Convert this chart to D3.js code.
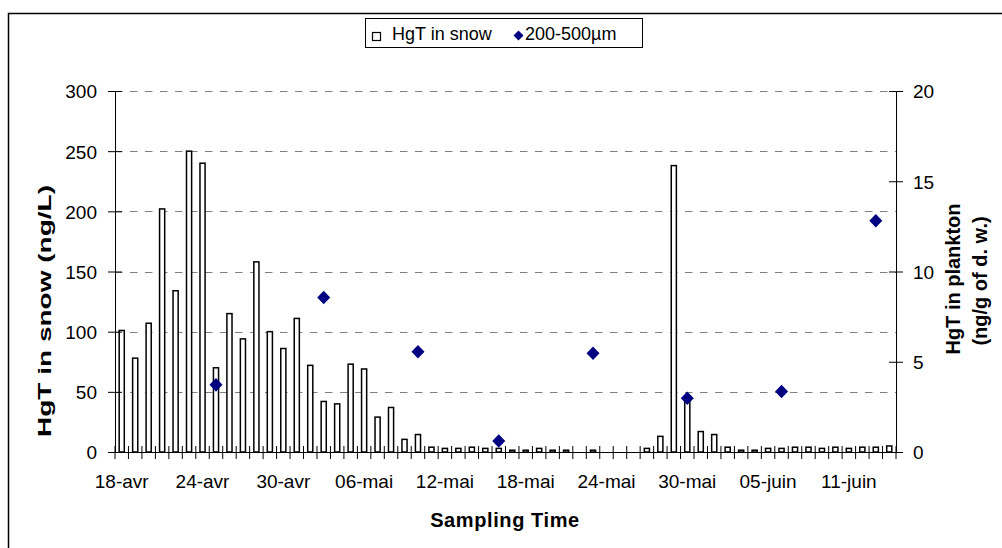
<!DOCTYPE html>
<html>
<head>
<meta charset="utf-8">
<script src="https://cdn.jsdelivr.net/npm/d3@7"></script>
<style>
  html, body { margin: 0; padding: 0; background: #fff; }
  svg { display: block; }
  text { font-family: Arial, "Liberation Sans", sans-serif; fill: #000; }
</style>
</head>
<body>
<svg id="chart" width="1002" height="548"></svg>
<script>
// ---------- data ----------
const dates = [
  "18-avr","19-avr","20-avr","21-avr","22-avr","23-avr","24-avr","25-avr","26-avr","27-avr",
  "28-avr","29-avr","30-avr","01-mai","02-mai","03-mai","04-mai","05-mai","06-mai","07-mai",
  "08-mai","09-mai","10-mai","11-mai","12-mai","13-mai","14-mai","15-mai","16-mai","17-mai",
  "18-mai","19-mai","20-mai","21-mai","22-mai","23-mai","24-mai","25-mai","26-mai","27-mai",
  "28-mai","29-mai","30-mai","31-mai","01-juin","02-juin","03-juin","04-juin","05-juin","06-juin",
  "07-juin","08-juin","09-juin","10-juin","11-juin","12-juin","13-juin","14-juin"
];
const snowHgT = [
  101, 78, 107, 202, 134, 250, 240, 70, 115, 94,
  158, 100, 86, 111, 72, 42, 40, 73, 69, 29,
  37, 10.5, 14.5, 4, 3, 3, 4, 3, 3, 1.5,
  1.5, 3, 1.5, 1.5, null, 1.5, null, null, null, 3,
  13, 238, 45, 17, 14.5, 4, 1.5, 1.5, 3, 3,
  4, 4, 3, 4, 3, 4, 4, 5
];
const planktonDates = ["25-avr","03-mai","10-mai","16-mai","23-mai","30-mai","06-juin","13-juin"];
const planktonHgT = [3.72, 8.56, 5.55, 0.61, 5.47, 2.98, 3.35, 12.81];
const xTickLabels = ["18-avr","24-avr","30-avr","06-mai","12-mai","18-mai","24-mai","30-mai","05-juin","11-juin"];
const leftTicks = [0, 50, 100, 150, 200, 250, 300];
const rightTicks = [0, 5, 10, 15, 20];
const legendLabels = ["HgT in snow", "200-500µm"];

// ---------- layout ----------
const svg = d3.select("#chart");
const pLeft = 115, pRight = 896, pTop = 91, pBottom = 452;

const x = d3.scaleBand().domain(dates).range([pLeft, pRight]).paddingInner(0.62).paddingOuter(0.31);
const xEdge = d3.scaleLinear().domain([0, dates.length]).range([pLeft, pRight]);
const yL = d3.scaleLinear().domain([0, 300]).range([pBottom, pTop]);
const yR = d3.scaleLinear().domain([0, 20]).range([pBottom, pTop]);
const xc = d => x(d) + x.bandwidth() / 2;

// outer chart border (extends past the picture)
svg.append("rect").attr("x", 8.5).attr("y", 13.5).attr("width", 1100).attr("height", 600)
  .attr("fill", "none").attr("stroke", "#000").attr("stroke-width", 1.5);

// gridlines
svg.append("g").selectAll("line").data(leftTicks.filter(v => v > 0)).join("line")
  .attr("x1", pLeft).attr("x2", pRight)
  .attr("y1", d => Math.round(yL(d)) + 0.5).attr("y2", d => Math.round(yL(d)) + 0.5)
  .attr("stroke", "#808080").attr("stroke-width", 1).attr("stroke-dasharray", "7.5,7.5");

// bars
svg.append("g").selectAll("rect").data(dates.map((d, i) => ({d, v: snowHgT[i]})).filter(o => o.v != null))
  .join("rect")
  .attr("x", o => x(o.d)).attr("width", x.bandwidth())
  .attr("y", o => yL(o.v)).attr("height", o => yL(0) - yL(o.v))
  .attr("fill", "#fff").attr("stroke", "#000").attr("stroke-width", 1.5);

// left axis
const gL = svg.append("g").attr("transform", `translate(${pLeft},0)`)
  .call(d3.axisLeft(yL).tickValues(leftTicks).tickSize(7).tickPadding(11));
gL.select(".domain").attr("stroke", "#000");
gL.selectAll(".tick line").attr("x1", -7).attr("x2", 7).attr("stroke", "#000");
gL.selectAll(".tick text").attr("font-size", 19).attr("font-family", "Arial, 'Liberation Sans', sans-serif").attr("dy", "0.36em");

// right axis
const gR = svg.append("g").attr("transform", `translate(${pRight},0)`)
  .call(d3.axisRight(yR).tickValues(rightTicks).tickSize(7).tickPadding(10));
gR.select(".domain").attr("stroke", "#000");
gR.selectAll(".tick line").attr("x1", -7).attr("x2", 7).attr("stroke", "#000");
gR.selectAll(".tick text").attr("font-size", 19).attr("font-family", "Arial, 'Liberation Sans', sans-serif").attr("dy", "0.36em");

// x axis
const gX = svg.append("g");
gX.append("line").attr("x1", pLeft).attr("x2", pRight).attr("y1", pBottom + 0.5).attr("y2", pBottom + 0.5).attr("stroke", "#000");
gX.selectAll("line.tk").data(d3.range(dates.length + 1)).join("line").attr("class", "tk")
  .attr("x1", i => xEdge(i)).attr("x2", i => xEdge(i))
  .attr("y1", pBottom - 6).attr("y2", pBottom + 7).attr("stroke", "#000").attr("stroke-width", 1);
gX.selectAll("text").data(xTickLabels).join("text")
  .attr("x", d => xc(d)).attr("y", 488).attr("text-anchor", "middle").attr("font-size", 19).text(d => d);

// diamonds
const diamond = (hw, hh) => ({
  draw(ctx) { ctx.moveTo(0, -hh); ctx.lineTo(hw, 0); ctx.lineTo(0, hh); ctx.lineTo(-hw, 0); ctx.closePath(); }
});
svg.append("g").selectAll("path").data(planktonDates.map((d, i) => ({d, v: planktonHgT[i]}))).join("path")
  .attr("transform", o => `translate(${xc(o.d)},${yR(o.v)})`)
  .attr("d", d3.symbol().type(diamond(6.5, 6.8))())
  .attr("fill", "#000080");

// axis titles
svg.append("text").attr("transform", "translate(51,311) rotate(-90)")
  .attr("text-anchor", "middle").attr("font-size", 19).attr("font-weight", "bold")
  .attr("textLength", 252).attr("lengthAdjust", "spacingAndGlyphs")
  .text("HgT in snow (ng/L)");
svg.append("text").attr("transform", "translate(960,279) rotate(-90)")
  .attr("text-anchor", "middle").attr("font-size", 20).attr("font-weight", "bold")
  .text("HgT in plankton");
svg.append("text").attr("transform", "translate(987,281) rotate(-90)")
  .attr("text-anchor", "middle").attr("font-size", 20).attr("font-weight", "bold")
  .text("(ng/g of d. w.)");
svg.append("text").attr("x", 505).attr("y", 527).attr("text-anchor", "middle")
  .attr("font-size", 20).attr("font-weight", "bold").attr("letter-spacing", 0.6).text("Sampling Time");

// legend
const lg = svg.append("g");
lg.append("rect").attr("x", 365.5).attr("y", 18.5).attr("width", 277).attr("height", 29)
  .attr("fill", "#fff").attr("stroke", "#000").attr("stroke-width", 1);
lg.append("rect").attr("x", 372.5).attr("y", 32.5).attr("width", 8).attr("height", 8)
  .attr("fill", "#fff").attr("stroke", "#000").attr("stroke-width", 1.2);
lg.append("text").attr("x", 392).attr("y", 40).attr("font-size", 18).text(legendLabels[0]);
lg.append("path").attr("transform", "translate(518.5,35.5)")
  .attr("d", d3.symbol().type(diamond(5, 5))()).attr("fill", "#000080");
lg.append("text").attr("x", 525).attr("y", 40).attr("font-size", 18).text(legendLabels[1]);
</script>
</body>
</html>
